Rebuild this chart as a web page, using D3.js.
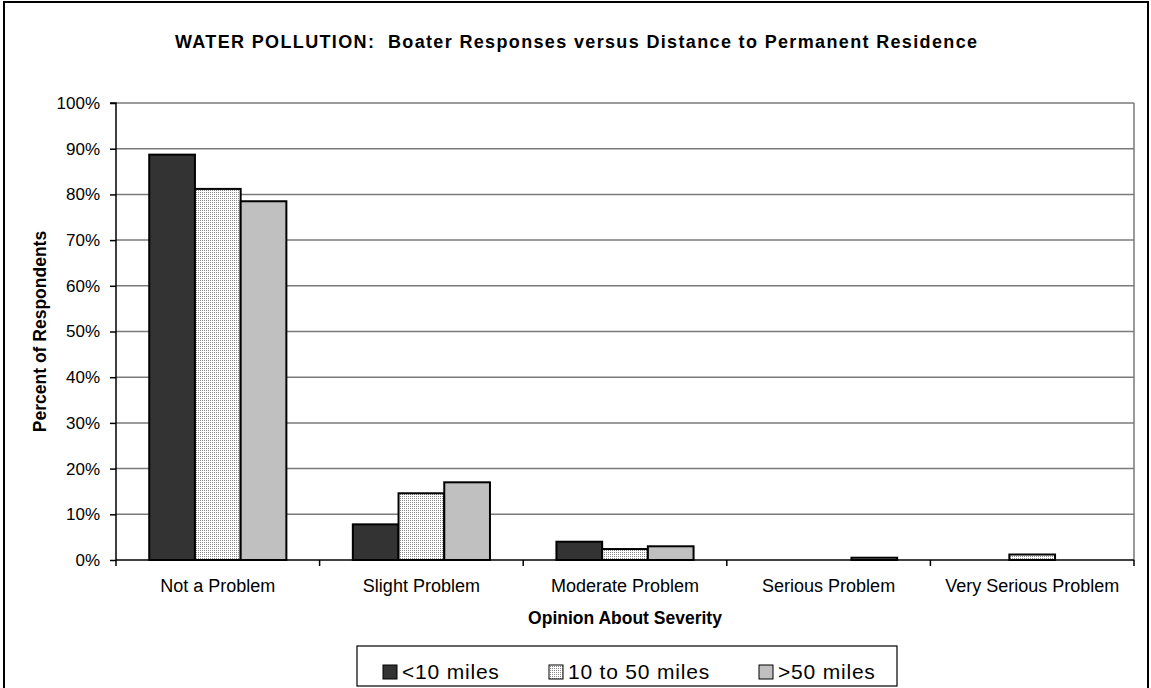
<!DOCTYPE html>
<html>
<head>
<meta charset="utf-8">
<script src="https://cdn.jsdelivr.net/npm/d3@7"></script>
<style>
  html, body { margin: 0; padding: 0; background: #fff; }
  svg { display: block; font-family: "Liberation Sans", Arial, sans-serif; }
</style>
</head>
<body>
<svg id="chart" width="1151" height="688"></svg>
<script>
const categories = ["Not a Problem", "Slight Problem", "Moderate Problem", "Serious Problem", "Very Serious Problem"];
const seriesNames = ["<10 miles", "10 to 50 miles", ">50 miles"];
const under10 = [88.7, 7.8, 4.0, 0, 0];
const from10to50 = [81.2, 14.6, 2.4, 0, 1.2];
const over50 = [78.5, 17.0, 3.0, 0.5, 0];
const yTicks = [0, 10, 20, 30, 40, 50, 60, 70, 80, 90, 100];
const titleText = "WATER POLLUTION:  Boater Responses versus Distance to Permanent Residence";
const xTitle = "Opinion About Severity";
const yTitle = "Percent of Respondents";

const seriesValues = [under10, from10to50, over50];
const fills = ["#333333", "url(#dots)", "#c0c0c0"];

const svg = d3.select("#chart");
const defs = svg.append("defs");
const pat = defs.append("pattern").attr("id", "dots").attr("patternUnits", "userSpaceOnUse")
  .attr("width", 2).attr("height", 2);
pat.append("rect").attr("width", 2).attr("height", 2).attr("fill", "#ffffff");
pat.append("rect").attr("width", 1).attr("height", 1).attr("fill", "#8a8a8a");

// outer border
svg.append("rect").attr("x", 4).attr("y", 2).attr("width", 1144).attr("height", 720)
  .attr("fill", "none").attr("stroke", "#000").attr("stroke-width", 2);

const L = 116, R = 1134, T = 103, B = 560;
const x0 = d3.scaleBand().domain(categories).range([L, R]).paddingInner(0).paddingOuter(0);
const x1 = d3.scaleBand().domain(seriesNames).range([0, x0.bandwidth()]).paddingInner(0).paddingOuter(0.727);
const y = d3.scaleLinear().domain([0, 100]).range([B, T]);

// gridlines
svg.append("g").selectAll("line").data(yTicks.filter(d => d > 0)).join("line")
  .attr("x1", L).attr("x2", R).attr("y1", d => y(d)).attr("y2", d => y(d))
  .attr("stroke", "#7a7a7a").attr("stroke-width", 1.5);
// right plot border
svg.append("line").attr("x1", R).attr("x2", R).attr("y1", T).attr("y2", B)
  .attr("stroke", "#7a7a7a").attr("stroke-width", 1.5);

// bars
seriesNames.forEach((s, si) => {
  svg.append("g").selectAll("rect").data(categories).join("rect")
    .attr("x", c => x0(c) + x1(s))
    .attr("y", (c, i) => y(seriesValues[si][i]))
    .attr("width", x1.bandwidth())
    .attr("height", (c, i) => B - y(seriesValues[si][i]))
    .attr("fill", fills[si])
    .attr("stroke", "#000").attr("stroke-width", 2)
    .attr("display", (c, i) => seriesValues[si][i] > 0 ? null : "none");
});

// y axis
const yAxis = d3.axisLeft(y).tickValues(yTicks).tickFormat(d => d + "%").tickSize(6).tickPadding(10);
const gy = svg.append("g").attr("transform", `translate(${L},0)`).call(yAxis);
gy.select(".domain").attr("stroke", "#000").attr("stroke-width", 1.5).attr("d", `M-6,${T}H0V${B}`);
gy.selectAll(".tick line").attr("stroke", "#000").attr("stroke-width", 1.5);
gy.selectAll(".tick text").attr("font-size", 17).attr("fill", "#000").attr("font-family", "Liberation Sans, Arial, sans-serif");

// x axis
const xAxis = d3.axisBottom(x0).tickSize(0).tickPadding(19);
const gx = svg.append("g").attr("transform", `translate(0,${B})`).call(xAxis);
gx.select(".domain").attr("stroke", "#000").attr("stroke-width", 1.5).attr("d", `M${L},0H${R}`);
gx.selectAll(".tick text").attr("font-size", 18).attr("fill", "#000").attr("font-family", "Liberation Sans, Arial, sans-serif");
// boundary ticks
const bounds = categories.map(c => x0(c)).concat([R]);
svg.append("g").selectAll("line").data(bounds).join("line")
  .attr("x1", d => d).attr("x2", d => d).attr("y1", B).attr("y2", B + 6)
  .attr("stroke", "#000").attr("stroke-width", 1.5);

// titles
svg.append("text").attr("x", 576).attr("y", 48).attr("text-anchor", "middle")
  .attr("font-size", 18).attr("font-weight", "bold").style("white-space", "pre")
  .attr("textLength", 802).attr("lengthAdjust", "spacing").text(titleText);
svg.append("text").attr("x", 625).attr("y", 624).attr("text-anchor", "middle")
  .attr("font-size", 17.5).attr("font-weight", "bold").text(xTitle);
svg.append("text").attr("transform", `translate(46,${(T + B) / 2}) rotate(-90)`).attr("text-anchor", "middle")
  .attr("font-size", 17.5).attr("font-weight", "bold").text(yTitle);

// legend
const lg = svg.append("g");
lg.append("rect").attr("x", 357).attr("y", 646).attr("width", 540).attr("height", 40)
  .attr("fill", "#fff").attr("stroke", "#000").attr("stroke-width", 1.2);
const legX = [383, 549, 759];
seriesNames.forEach((s, i) => {
  lg.append("rect").attr("x", legX[i]).attr("y", 665).attr("width", 14).attr("height", 14)
    .attr("fill", fills[i]).attr("stroke", "#000").attr("stroke-width", 1);
  lg.append("text").attr("x", legX[i] + 19).attr("y", 679).attr("font-size", 21)
    .attr("letter-spacing", 0.8).text(s);
});
</script>
</body>
</html>
